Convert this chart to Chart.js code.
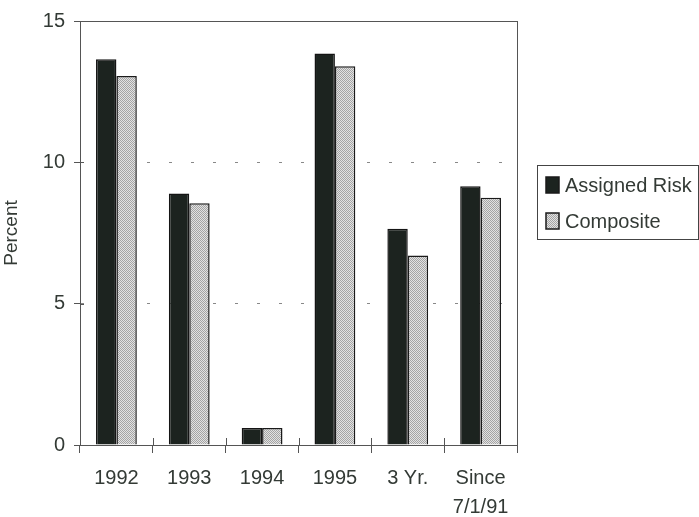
<!DOCTYPE html>
<html>
<head>
<meta charset="utf-8">
<script src="https://cdn.jsdelivr.net/npm/chart.js@4"></script>
<style>
  body { margin: 0; background: #fff; }
  canvas { display: block; }
</style>
</head>
<body>
<canvas id="c" width="699" height="517"></canvas>
<script>
const categories = ["1992", "1993", "1994", "1995", "3 Yr.", ["Since", "7/1/91"]];
const assignedRisk = [13.65, 8.9, 0.6, 13.85, 7.65, 9.15];
const composite = [13.05, 8.55, 0.6, 13.4, 6.7, 8.75];
const yTicks = [0, 5, 10, 15];

const textColor = "#333a35";
const axisColor = "#555";
const darkFill = "#1c231f";

// stipple pattern for the light series
function makeStipple() {
  const c = document.createElement("canvas");
  c.width = 4; c.height = 4;
  const g = c.getContext("2d");
  g.fillStyle = "#e2e2e2";
  g.fillRect(0, 0, 4, 4);
  g.fillStyle = "#a4a4a4";
  for (let y = 0; y < 4; y++) {
    for (let x = 0; x < 4; x++) {
      if ((x + y) % 2 === 0) g.fillRect(x, y, 1, 1);
    }
  }
  return g.createPattern(c, "repeat");
}
const stipple = makeStipple();

// frame, inner tick halves and boxed legend
const decorations = {
  id: "decorations",
  afterDraw(chart) {
    const ctx = chart.ctx;
    const a = chart.chartArea;
    const xs = chart.scales.x, ys = chart.scales.y;
    ctx.save();
    ctx.strokeStyle = axisColor;
    ctx.lineWidth = 1;
    ctx.strokeRect(a.left + 0.5, a.top + 0.5, a.right - a.left, a.bottom - a.top);
    ctx.beginPath();
    for (let i = 0; i <= categories.length; i++) {
      const x = Math.round(xs.left + (xs.right - xs.left) * i / categories.length) + 0.5;
      ctx.moveTo(x, a.bottom - 7);
      ctx.lineTo(x, a.bottom);
    }
    yTicks.forEach(v => {
      const y = Math.round(ys.getPixelForValue(v)) + 0.5;
      ctx.moveTo(a.left, y);
      ctx.lineTo(a.left + 4, y);
    });
    ctx.stroke();

    // legend
    const lx = a.right + 20, ly = 165, lw = chart.width - lx - 1, lh = 74;
    ctx.strokeStyle = "#444";
    ctx.strokeRect(lx + 0.5, ly + 0.5, lw, lh);
    ctx.font = "20px 'Liberation Sans', Arial, sans-serif";
    ctx.textBaseline = "middle";
    chart.data.datasets.forEach((ds, i) => {
      const cy = ly + 20 + i * 36;
      ctx.fillStyle = ds.backgroundColor;
      ctx.fillRect(lx + 9, cy - 8, 13, 16);
      ctx.strokeStyle = "#1a1a1a";
      ctx.lineWidth = 1.5;
      ctx.strokeRect(lx + 9, cy - 8, 13, 16);
      ctx.fillStyle = textColor;
      ctx.fillText(ds.label, lx + 28, cy + 1);
    });
    ctx.restore();
  }
};

new Chart(document.getElementById("c"), {
  type: "bar",
  data: {
    labels: categories,
    datasets: [
      {
        label: "Assigned Risk",
        data: assignedRisk,
        backgroundColor: darkFill,
        borderColor: "#141414",
        borderWidth: 1.5,
        categoryPercentage: 0.56,
        barPercentage: 1
      },
      {
        label: "Composite",
        data: composite,
        backgroundColor: stipple,
        borderColor: "#1a1a1a",
        borderWidth: 1.5,
        categoryPercentage: 0.56,
        barPercentage: 1
      }
    ]
  },
  options: {
    responsive: false,
    animation: false,
    devicePixelRatio: 1,
    layout: { padding: { top: 20, right: 182, left: 0, bottom: 0 } },
    scales: {
      x: {
        afterFit: s => { s.height = 72; },
        grid: {
          drawOnChartArea: false,
          tickLength: 8,
          tickColor: axisColor
        },
        border: { color: axisColor },
        ticks: {
          color: textColor,
          padding: 11,
          maxRotation: 0,
          font: { family: "'Liberation Sans', Arial, sans-serif", size: 20, lineHeight: 1.45 }
        }
      },
      y: {
        min: 0,
        max: 15,
        afterFit: s => { s.width = 80; },
        afterBuildTicks: s => { s.ticks = yTicks.map(v => ({ value: v })); },
        grid: {
          color: ctx => (ctx.tick && (ctx.tick.value === 5 || ctx.tick.value === 10)) ? "#888" : "rgba(0,0,0,0)",
          tickColor: axisColor,
          tickLength: 6
        },
        border: { color: axisColor, dash: [3, 19] },
        title: {
          display: true,
          text: "Percent",
          color: textColor,
          padding: { top: 0, bottom: 10 },
          font: { family: "'Liberation Sans', Arial, sans-serif", size: 19 }
        },
        ticks: {
          color: textColor,
          padding: 9,
          font: { family: "'Liberation Sans', Arial, sans-serif", size: 20 }
        }
      }
    },
    plugins: {
      legend: { display: false },
      tooltip: { enabled: false }
    }
  },
  plugins: [decorations]
});
</script>
</body>
</html>
